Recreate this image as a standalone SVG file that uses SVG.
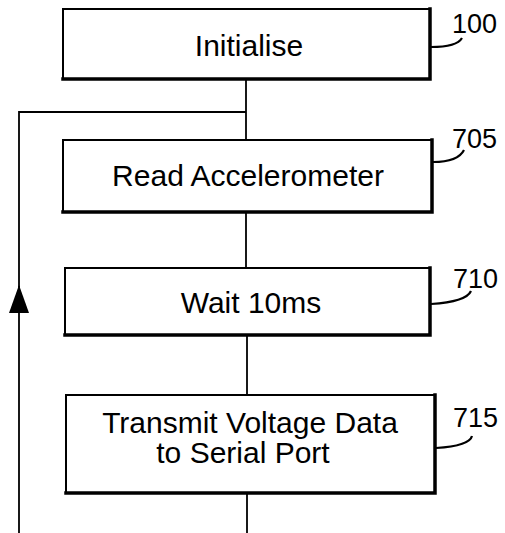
<svg xmlns="http://www.w3.org/2000/svg" width="505" height="533" viewBox="0 0 505 533">
<style>
.box{fill:#fff;stroke:#000;stroke-width:2}
.sh{fill:none;stroke:#000;stroke-width:3.5;stroke-linecap:square}
.t{font-family:"Liberation Sans",Arial,Helvetica,sans-serif;font-size:30px;fill:#000;text-anchor:middle}
.lbl{font-family:"Liberation Sans",Arial,Helvetica,sans-serif;font-size:27px;fill:#000}
.ld{fill:none;stroke:#000;stroke-width:2.2}
.c{fill:none;stroke:#000;stroke-width:1.8}
</style>
<defs>
<marker id="ah" markerUnits="userSpaceOnUse" markerWidth="28" markerHeight="20" refX="27" refY="10" orient="auto" viewBox="0 0 28 20">
<path d="M28,10 L0,0 L0,20 Z" fill="#000"/>
</marker>
</defs>
<rect width="505" height="533" fill="#fff"/>
<g id="connectors">
<path class="c" d="M246,79 L246,140"/>
<path class="c" d="M246,112 L19,112 L19,300"/>
<path class="c" d="M19,533 L19,286" marker-end="url(#ah)"/>
<path class="c" d="M246,212 L246,268"/>
<path class="c" d="M247,335 L247,395"/>
<path class="c" d="M247,493 L247,533"/>
</g>
<g id="n100">
<rect class="box" x="63" y="9" width="367" height="70"/>
<polyline class="sh" points="430,9 430,79 63,79"/>
<text class="t" x="249" y="56">Initialise</text>
<path class="ld" d="M431,47 C446,47 458,45 462,38"/>
<text class="lbl" x="452" y="33">100</text>
</g>
<g id="n705">
<rect class="box" x="63" y="140" width="369" height="72"/>
<polyline class="sh" points="432,140 432,212 63,212"/>
<text class="t" x="248" y="186">Read Accelerometer</text>
<path class="ld" d="M433,162 C448,162 460,158 464,150"/>
<text class="lbl" x="452" y="148">705</text>
</g>
<g id="n710">
<rect class="box" x="65" y="268" width="365" height="67"/>
<polyline class="sh" points="430,268 430,335 65,335"/>
<text class="t" x="251" y="313">Wait 10ms</text>
<path class="ld" d="M431,304 C447,303 467,300 471,291"/>
<text class="lbl" x="453" y="288">710</text>
</g>
<g id="n715">
<rect class="box" x="66" y="395" width="369" height="98"/>
<polyline class="sh" points="435,395 435,493 66,493"/>
<text class="t" x="250" y="433">Transmit Voltage Data</text>
<text class="t" x="243" y="463">to Serial Port</text>
<path class="ld" d="M436,448 C452,447 470,444 472,436"/>
<text class="lbl" x="453" y="427">715</text>
</g>
</svg>
